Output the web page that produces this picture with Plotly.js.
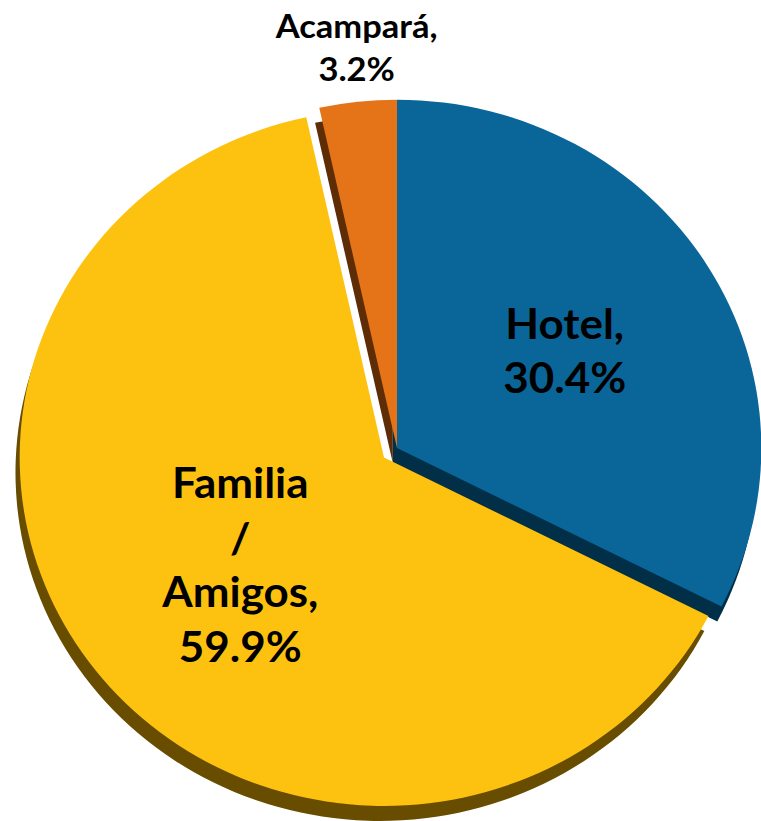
<!DOCTYPE html>
<html>
<head>
<meta charset="utf-8">
<script src="https://cdn.plot.ly/plotly-3.0.1.min.js"></script>
<style>
html,body{margin:0;padding:0;overflow:hidden;background:#fff;width:761px;height:821px;}
#chart{width:780px;height:850px;transform-origin:397px 448px;transform:scaleX(1.046);}
</style>
</head>
<body>
<div id="chart"></div>
<script>
// ---- data ----
var categories = ["Hotel", "Familia / Amigos", "Acampará"];
var values = [30.4, 59.9, 3.2];
var topColors = ["#0a6699", "#fdc210", "#e47417"];
var sideColors = ["#012f48", "#684d00", "#5f2d05"];
var pulls = [0, 0.045, 0];
var insideMask = [true, true, false];

// ---- layout helpers (pixels -> paper domain) ----
var W = 780, H = 850;
var half = 364;
function dom(cx, cy) {
  return {
    x: [(cx - half) / W, (cx + half) / W],
    y: [1 - (cy + half) / H, 1 - (cy - half) / H]
  };
}
var pieCx = 397, pieCy = 448;
var maxPull = Math.max.apply(null, pulls);
var pieR = half / (1 + maxPull);

var labels = categories.map(function (c) { return c.replace(" / ", "<br>/<br>"); });
var texts = labels.map(function (l, i) { return l + ",<br>" + values[i].toFixed(1) + "%"; });
var templates = insideMask.map(function (m) { return m ? "%{text}" : ""; });

var total = values.reduce(function (a, b) { return a + b; }, 0);

// outside labels placed along the slice's mid angle
var annotations = [];
var cum = 0;
values.forEach(function (v, i) {
  var mid = (cum + v / 2) / total * 2 * Math.PI;
  cum += v;
  if (insideMask[i]) return;
  var d = pieR + 12;
  annotations.push({
    xref: "paper", yref: "paper",
    x: (pieCx + d * Math.sin(mid)) / W,
    y: 1 - (pieCy - d * Math.cos(mid)) / H,
    xanchor: "center", yanchor: "bottom",
    text: texts[i],
    showarrow: false,
    font: { family: "Lato, 'Open Sans', sans-serif", size: 33, color: "#000000", weight: 700 }
  });
});

var depthTrace = {
  type: "pie",
  labels: categories,
  values: values,
  sort: false,
  direction: "clockwise",
  rotation: 0,
  pull: pulls,
  marker: { colors: sideColors, line: { width: 0 } },
  textinfo: "none",
  hoverinfo: "skip",
  showlegend: false,
  domain: dom(pieCx - 4, pieCy + 15)
};

var faceTrace = {
  type: "pie",
  labels: categories,
  values: values,
  text: texts,
  sort: false,
  direction: "clockwise",
  rotation: 0,
  pull: pulls,
  marker: { colors: topColors, line: { width: 0 } },
  texttemplate: templates,
  textposition: "inside",
  insidetextorientation: "horizontal",
  insidetextfont: { family: "Lato, 'Open Sans', sans-serif", size: 42, color: "#000000", weight: 700 },
  hoverinfo: "label+percent",
  showlegend: false,
  domain: dom(pieCx, pieCy)
};

var layout = {
  width: W,
  height: H,
  margin: { l: 0, r: 0, t: 0, b: 0 },
  paper_bgcolor: "#ffffff",
  showlegend: false,
  annotations: annotations
};

Plotly.newPlot("chart", [depthTrace, faceTrace], layout, { displayModeBar: false, staticPlot: true });
</script>
</body>
</html>
